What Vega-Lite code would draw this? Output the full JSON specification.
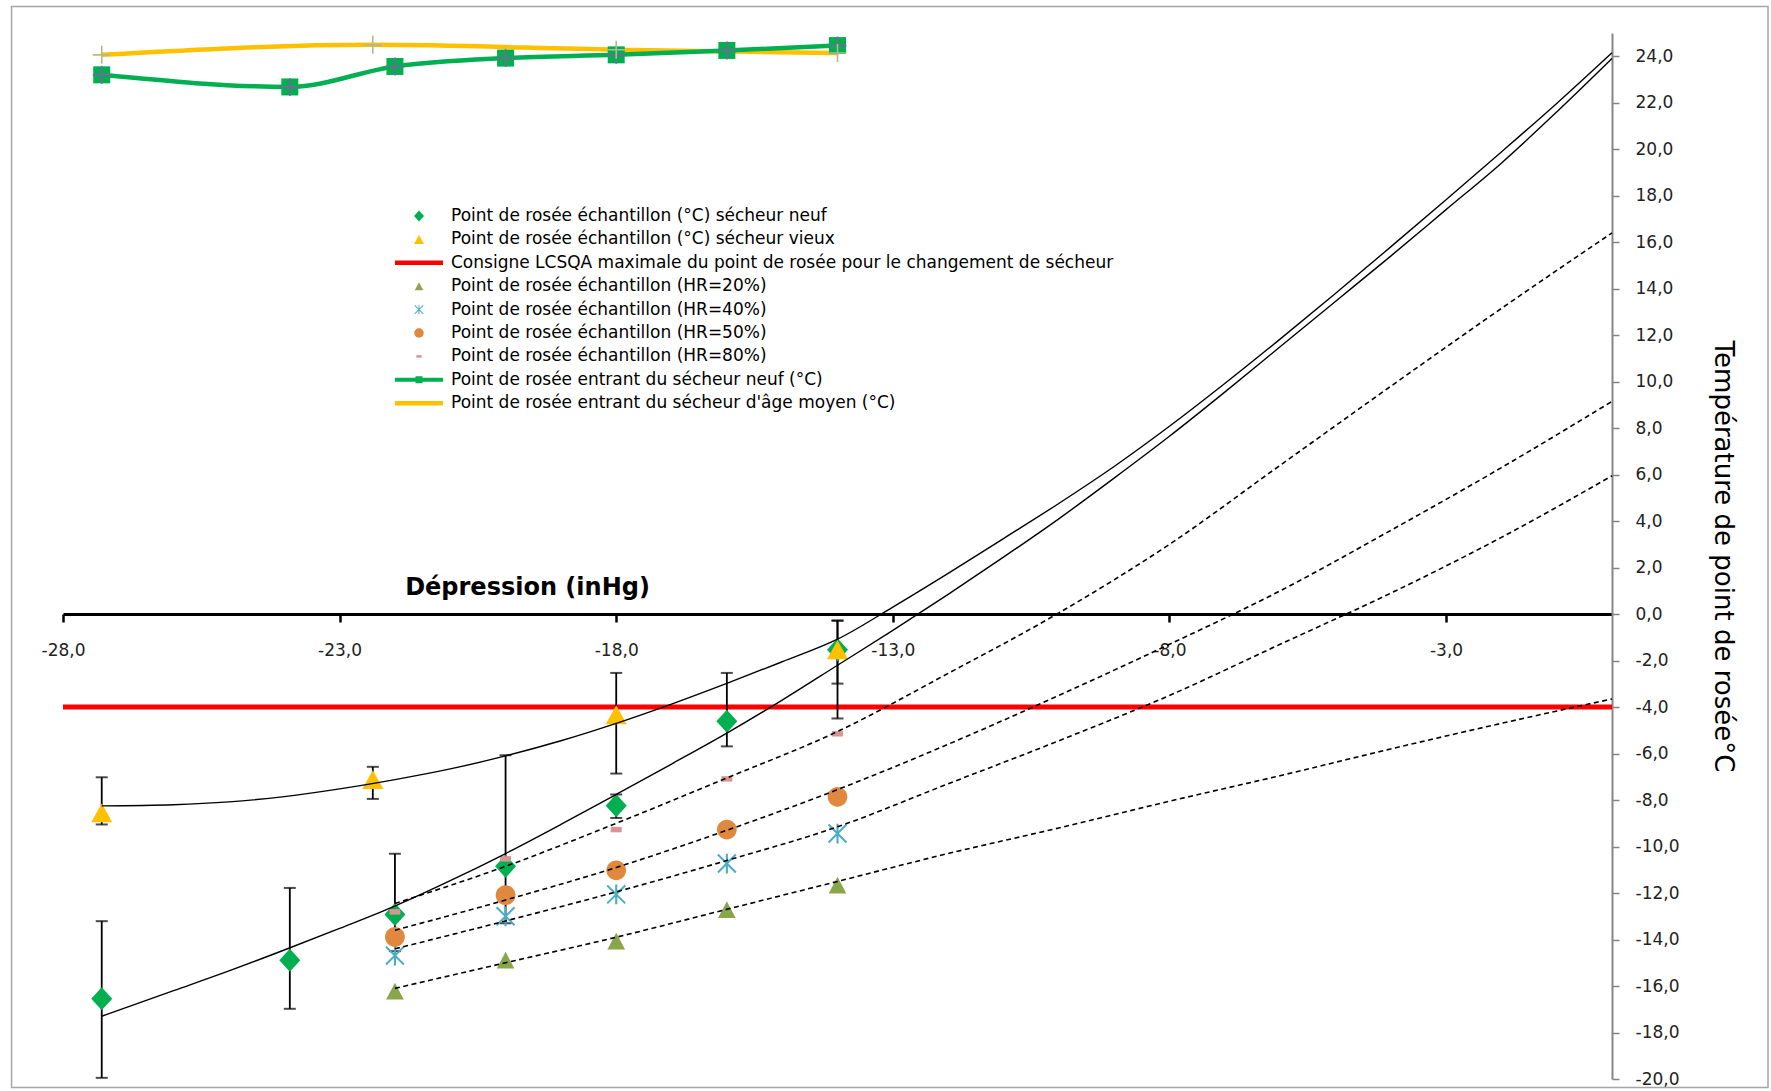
{
  "$schema": "https://vega.github.io/schema/vega-lite/v6.json",
  "width": 1549,
  "height": 1046,
  "autosize": {"type": "none"},
  "padding": {"left": 63, "top": 33, "right": 159, "bottom": 12},
  "background": "white",
  "config": {"view": {"stroke": null}, "axis": {"grid": false}},
  "datasets": {
    "pts": [
      {"series": "Point de rosée échantillon (°C) sécheur neuf", "x": -27.3, "y": -16.55},
      {"series": "Point de rosée échantillon (°C) sécheur neuf", "x": -23.9, "y": -14.89},
      {"series": "Point de rosée échantillon (°C) sécheur neuf", "x": -22, "y": -12.92},
      {"series": "Point de rosée échantillon (°C) sécheur neuf", "x": -20, "y": -10.85},
      {"series": "Point de rosée échantillon (°C) sécheur neuf", "x": -18, "y": -8.24},
      {"series": "Point de rosée échantillon (°C) sécheur neuf", "x": -16, "y": -4.61},
      {"series": "Point de rosée échantillon (°C) sécheur neuf", "x": -14, "y": -1.53},
      {"series": "Point de rosée échantillon (°C) sécheur vieux", "x": -27.3, "y": -8.55},
      {"series": "Point de rosée échantillon (°C) sécheur vieux", "x": -22.4, "y": -7.12},
      {"series": "Point de rosée échantillon (°C) sécheur vieux", "x": -18, "y": -4.33},
      {"series": "Point de rosée échantillon (°C) sécheur vieux", "x": -14, "y": -1.53},
      {"series": "Point de rosée échantillon (HR=20%)", "x": -22, "y": -16.22},
      {"series": "Point de rosée échantillon (HR=20%)", "x": -20, "y": -14.89},
      {"series": "Point de rosée échantillon (HR=20%)", "x": -18, "y": -14.07},
      {"series": "Point de rosée échantillon (HR=20%)", "x": -16, "y": -12.71},
      {"series": "Point de rosée échantillon (HR=20%)", "x": -14, "y": -11.66},
      {"series": "Point de rosée échantillon (HR=40%)", "x": -22, "y": -14.69},
      {"series": "Point de rosée échantillon (HR=40%)", "x": -20, "y": -13.0},
      {"series": "Point de rosée échantillon (HR=40%)", "x": -18, "y": -12.06},
      {"series": "Point de rosée échantillon (HR=40%)", "x": -16, "y": -10.73},
      {"series": "Point de rosée échantillon (HR=40%)", "x": -14, "y": -9.44},
      {"series": "Point de rosée échantillon (HR=50%)", "x": -22, "y": -13.89},
      {"series": "Point de rosée échantillon (HR=50%)", "x": -20, "y": -12.09},
      {"series": "Point de rosée échantillon (HR=50%)", "x": -18, "y": -11.02},
      {"series": "Point de rosée échantillon (HR=50%)", "x": -16, "y": -9.27},
      {"series": "Point de rosée échantillon (HR=50%)", "x": -14, "y": -7.86},
      {"series": "Point de rosée échantillon (HR=80%)", "x": -22, "y": -12.81},
      {"series": "Point de rosée échantillon (HR=80%)", "x": -20, "y": -10.53},
      {"series": "Point de rosée échantillon (HR=80%)", "x": -18, "y": -9.27},
      {"series": "Point de rosée échantillon (HR=80%)", "x": -16, "y": -7.09},
      {"series": "Point de rosée échantillon (HR=80%)", "x": -14, "y": -5.15}
    ],
    "err": [
      {"x": -27.3, "lo": -19.95, "hi": -13.21},
      {"x": -23.9, "lo": -16.98, "hi": -11.78},
      {"x": -22, "lo": -14.5, "hi": -10.31},
      {"x": -20, "lo": -13.3, "hi": -6.07},
      {"x": -18, "lo": -8.77, "hi": -7.76},
      {"x": -16, "lo": -5.69, "hi": -2.53},
      {"x": -14, "lo": -4.49, "hi": -0.28},
      {"x": -27.3, "lo": -9.05, "hi": -7.02},
      {"x": -22.4, "lo": -7.95, "hi": -6.57},
      {"x": -18, "lo": -6.86, "hi": -2.53},
      {"x": -14, "lo": -2.99, "hi": -0.28}
    ],
    "solid": [
      {"curve": "A", "x": -27.3, "y": -8.25}, {"curve": "A", "x": -26, "y": -8.2}, {"curve": "A", "x": -25, "y": -8.08},
      {"curve": "A", "x": -24, "y": -7.85}, {"curve": "A", "x": -23, "y": -7.52}, {"curve": "A", "x": -22, "y": -7.12},
      {"curve": "A", "x": -21, "y": -6.66}, {"curve": "A", "x": -20, "y": -6.1}, {"curve": "A", "x": -19, "y": -5.45},
      {"curve": "A", "x": -18, "y": -4.7}, {"curve": "A", "x": -17, "y": -3.87}, {"curve": "A", "x": -16, "y": -2.98},
      {"curve": "A", "x": -15, "y": -2.05}, {"curve": "A", "x": -14, "y": -1.08}, {"curve": "A", "x": -13, "y": 0.3},
      {"curve": "A", "x": -12, "y": 1.75}, {"curve": "A", "x": -11, "y": 3.25}, {"curve": "A", "x": -10, "y": 4.76},
      {"curve": "A", "x": -9, "y": 6.35}, {"curve": "A", "x": -8, "y": 8.08}, {"curve": "A", "x": -7, "y": 9.92},
      {"curve": "A", "x": -6, "y": 11.83}, {"curve": "A", "x": -5, "y": 13.79}, {"curve": "A", "x": -4, "y": 15.8},
      {"curve": "A", "x": -3, "y": 17.83}, {"curve": "A", "x": -2, "y": 19.88}, {"curve": "A", "x": -1, "y": 21.97},
      {"curve": "A", "x": 0, "y": 24.15},
      {"curve": "B", "x": -27.3, "y": -17.3}, {"curve": "B", "x": -26, "y": -16.2}, {"curve": "B", "x": -25, "y": -15.35},
      {"curve": "B", "x": -24, "y": -14.45}, {"curve": "B", "x": -23, "y": -13.52}, {"curve": "B", "x": -22, "y": -12.56},
      {"curve": "B", "x": -21, "y": -11.47}, {"curve": "B", "x": -20, "y": -10.3}, {"curve": "B", "x": -19, "y": -9.05},
      {"curve": "B", "x": -18, "y": -7.76}, {"curve": "B", "x": -17, "y": -6.45}, {"curve": "B", "x": -16, "y": -5.12},
      {"curve": "B", "x": -15, "y": -3.7}, {"curve": "B", "x": -14, "y": -2.2}, {"curve": "B", "x": -13, "y": -0.7},
      {"curve": "B", "x": -12, "y": 0.85}, {"curve": "B", "x": -11, "y": 2.45}, {"curve": "B", "x": -10, "y": 4.1},
      {"curve": "B", "x": -9, "y": 5.85}, {"curve": "B", "x": -8, "y": 7.65}, {"curve": "B", "x": -7, "y": 9.55},
      {"curve": "B", "x": -6, "y": 11.5}, {"curve": "B", "x": -5, "y": 13.45}, {"curve": "B", "x": -4, "y": 15.4},
      {"curve": "B", "x": -3, "y": 17.4}, {"curve": "B", "x": -2, "y": 19.4}, {"curve": "B", "x": -1, "y": 21.6},
      {"curve": "B", "x": 0, "y": 23.9}
    ],
    "dashed": [
      {"curve": "HR80", "x": -22, "y": -12.45}, {"curve": "HR80", "x": -20, "y": -10.85}, {"curve": "HR80", "x": -18, "y": -9.0},
      {"curve": "HR80", "x": -16, "y": -7.05}, {"curve": "HR80", "x": -14, "y": -5.05}, {"curve": "HR80", "x": -12, "y": -2.55},
      {"curve": "HR80", "x": -10, "y": 0.05}, {"curve": "HR80", "x": -8, "y": 3.0}, {"curve": "HR80", "x": -6, "y": 6.4},
      {"curve": "HR80", "x": -4, "y": 9.8}, {"curve": "HR80", "x": -2, "y": 13.15}, {"curve": "HR80", "x": 0, "y": 16.4},
      {"curve": "HR50", "x": -22, "y": -13.6}, {"curve": "HR50", "x": -20, "y": -12.3}, {"curve": "HR50", "x": -18, "y": -10.9},
      {"curve": "HR50", "x": -16, "y": -9.3}, {"curve": "HR50", "x": -14, "y": -7.55}, {"curve": "HR50", "x": -12, "y": -5.6},
      {"curve": "HR50", "x": -10, "y": -3.5}, {"curve": "HR50", "x": -8, "y": -1.3}, {"curve": "HR50", "x": -6, "y": 1.0},
      {"curve": "HR50", "x": -4, "y": 3.6}, {"curve": "HR50", "x": -2, "y": 6.3}, {"curve": "HR50", "x": 0, "y": 9.15},
      {"curve": "HR40", "x": -22, "y": -14.4}, {"curve": "HR40", "x": -20, "y": -13.2}, {"curve": "HR40", "x": -18, "y": -11.95},
      {"curve": "HR40", "x": -16, "y": -10.6}, {"curve": "HR40", "x": -14, "y": -9.15}, {"curve": "HR40", "x": -12, "y": -7.3},
      {"curve": "HR40", "x": -10, "y": -5.45}, {"curve": "HR40", "x": -8, "y": -3.5}, {"curve": "HR40", "x": -6, "y": -1.3},
      {"curve": "HR40", "x": -4, "y": 0.9}, {"curve": "HR40", "x": -2, "y": 3.3}, {"curve": "HR40", "x": 0, "y": 5.95},
      {"curve": "HR20", "x": -22, "y": -16.1}, {"curve": "HR20", "x": -20, "y": -15.0}, {"curve": "HR20", "x": -18, "y": -13.9},
      {"curve": "HR20", "x": -16, "y": -12.7}, {"curve": "HR20", "x": -14, "y": -11.5}, {"curve": "HR20", "x": -12, "y": -10.3},
      {"curve": "HR20", "x": -10, "y": -9.2}, {"curve": "HR20", "x": -8, "y": -8.05}, {"curve": "HR20", "x": -6, "y": -6.95},
      {"curve": "HR20", "x": -4, "y": -5.8}, {"curve": "HR20", "x": -2, "y": -4.7}, {"curve": "HR20", "x": 0, "y": -3.65}
    ],
    "topNeuf": [
      {"x": -27.3, "y": 23.2}, {"x": -23.9, "y": 22.68}, {"x": -22, "y": 23.56}, {"x": -20, "y": 23.92},
      {"x": -18, "y": 24.06}, {"x": -16, "y": 24.25}, {"x": -14, "y": 24.46}
    ],
    "topMoyen": [
      {"x": -27.3, "y": 24.06}, {"x": -22.4, "y": 24.49}, {"x": -18, "y": 24.28}, {"x": -14, "y": 24.14}
    ],
    "consigne": [{"y": -4}]
  },
  "layer": [
    {
      "data": {"values": [{}]},
      "mark": {"type": "rect", "fillOpacity": 0, "stroke": "#A6A6A6", "strokeWidth": 1.5},
      "encoding": {
        "x": {"datum": -28.93, "type": "quantitative", "title": "Dépression (inHg)", "scale": {"domain": [-28, 0], "nice": false, "zero": false}},
        "x2": {"datum": 2.82},
        "y": {"datum": 26.14, "type": "quantitative", "title": "Température de point de rosée°C", "scale": {"domain": [-20, 25], "nice": false, "zero": false}},
        "y2": {"datum": -20.37}
      }
    },
    {
      "data": {"name": "consigne"},
      "mark": {"type": "rule", "color": "#FF0000", "strokeWidth": 5},
      "encoding": {"y": {"field": "y", "type": "quantitative", "title": "Température de point de rosée°C"}}
    },
    {
      "data": {"name": "err"},
      "mark": {"type": "errorbar", "color": "black", "thickness": 1.8, "ticks": {"size": 12, "thickness": 2, "color": "black"}},
      "encoding": {
        "x": {"field": "x", "type": "quantitative", "title": "Dépression (inHg)"},
        "y": {"field": "lo", "type": "quantitative", "title": "Température de point de rosée°C"},
        "y2": {"field": "hi"}
      }
    },
    {
      "data": {"name": "pts"},
      "mark": {"type": "point", "filled": true, "opacity": 1, "strokeWidth": 0, "size": 1764},
      "encoding": {
        "x": {
          "field": "x", "type": "quantitative", "title": "Dépression (inHg)",
          "scale": {"domain": [-28, 0], "nice": false, "zero": false},
          "axis": {
            "orient": "bottom", "offset": -465, "values": [-28, -23, -18, -13, -8, -3],
            "labelExpr": "(datum.value < 0 ? '-' : '') + replace(format(abs(datum.value), '.1f'), '.', ',')",
            "domainColor": "black", "domainWidth": 3, "tickColor": "black", "tickWidth": 2.5, "tickSize": 8,
            "labelFont": "DejaVu Sans", "labelFontSize": 17, "labelColor": "#222222", "labelPadding": 20,
            "labelFlush": false, "labelOverlap": false, "grid": false,
            "titleFont": "DejaVu Sans", "titleFontSize": 24, "titleFontWeight": "bold", "titleColor": "black",
            "titleX": 464, "titleY": -20, "titleAlign": "center", "titleBaseline": "alphabetic"
          }
        },
        "y": {
          "field": "y", "type": "quantitative", "title": "Température de point de rosée°C",
          "scale": {"domain": [-20, 25], "nice": false, "zero": false},
          "axis": {
            "orient": "right",
            "values": [-20, -18, -16, -14, -12, -10, -8, -6, -4, -2, 0, 2, 4, 6, 8, 10, 12, 14, 16, 18, 20, 22, 24],
            "labelExpr": "(datum.value < 0 ? '-' : '') + replace(format(abs(datum.value), '.1f'), '.', ',')",
            "domainColor": "#868686", "domainWidth": 2, "tickColor": "#868686", "tickWidth": 1.5, "tickSize": 7,
            "labelFont": "DejaVu Sans", "labelFontSize": 17, "labelColor": "#222222", "labelPadding": 16,
            "labelAlign": "left", "labelBaseline": "middle", "labelFlush": false, "labelOverlap": false, "grid": false,
            "titleFont": "DejaVu Sans", "titleFontSize": 26, "titleFontWeight": "normal", "titleColor": "black",
            "titleAngle": 90, "titleX": 110, "titleY": 523, "titleAlign": "center", "titleBaseline": "middle"
          }
        },
        "color": {
          "field": "series", "type": "nominal",
          "scale": {
            "domain": [
              "Point de rosée échantillon (°C) sécheur neuf",
              "Point de rosée échantillon (°C) sécheur vieux",
              "Consigne LCSQA maximale du point de rosée pour le changement de sécheur",
              "Point de rosée échantillon (HR=20%)",
              "Point de rosée échantillon (HR=40%)",
              "Point de rosée échantillon (HR=50%)",
              "Point de rosée échantillon (HR=80%)",
              "Point de rosée entrant du sécheur neuf (°C)",
              "Point de rosée entrant du sécheur d'âge moyen (°C)"
            ],
            "range": ["#00B050", "#FFC000", "#FF0000", "#8AA64B", "#4BACC6", "#E0883E", "#D99594", "#00B050", "#FFC000"]
          },
          "legend": {
            "title": null, "orient": "none", "legendX": 330, "legendY": 173, "direction": "vertical", "padding": 0,
            "symbolSize": 400, "symbolStrokeWidth": 0, "symbolOffset": 16, "labelOffset": 22, "rowPadding": 5.4,
            "labelFont": "DejaVu Sans", "labelFontSize": 17, "labelColor": "black", "labelLimit": 1000, "symbolOpacity": 1
          }
        },
        "shape": {
          "field": "series", "type": "nominal",
          "scale": {
            "domain": [
              "Point de rosée échantillon (°C) sécheur neuf",
              "Point de rosée échantillon (°C) sécheur vieux",
              "Consigne LCSQA maximale du point de rosée pour le changement de sécheur",
              "Point de rosée échantillon (HR=20%)",
              "Point de rosée échantillon (HR=40%)",
              "Point de rosée échantillon (HR=50%)",
              "Point de rosée échantillon (HR=80%)",
              "Point de rosée entrant du sécheur neuf (°C)",
              "Point de rosée entrant du sécheur d'âge moyen (°C)"
            ],
            "range": [
              "M0,-0.55L0.5,0L0,0.55L-0.5,0Z",
              "M0,-0.45L0.5,0.45L-0.5,0.45Z",
              "M-2.4,-0.22H2.4V0.22H-2.4Z",
              "M0,-0.4L0.42,0.4L-0.42,0.4Z",
              "M-0.05,-0.47L0.05,-0.47L0.05,0.47L-0.05,0.47Z M-0.394,-0.461L0.461,0.394L0.394,0.461L-0.461,-0.394Z M0.461,-0.394L-0.394,0.461L-0.461,0.394L0.394,-0.461Z",
              "M0,-0.47C0.26,-0.47,0.47,-0.26,0.47,0C0.47,0.26,0.26,0.47,0,0.47C-0.26,0.47,-0.47,0.26,-0.47,0C-0.47,-0.26,-0.26,-0.47,0,-0.47Z",
              "M-0.26,-0.13H0.26V0.13H-0.26Z",
              "M-2.4,-0.2H2.4V0.2H-2.4Z M-0.35,-0.35H0.35V0.35H-0.35Z",
              "M-2.4,-0.22H2.4V0.22H-2.4Z"
            ]
          },
          "legend": {
            "title": null, "orient": "none", "legendX": 330, "legendY": 173, "direction": "vertical", "padding": 0,
            "symbolSize": 400, "symbolStrokeWidth": 0, "symbolOffset": 16, "labelOffset": 22, "rowPadding": 5.4,
            "labelFont": "DejaVu Sans", "labelFontSize": 17, "labelColor": "black", "labelLimit": 1000, "symbolOpacity": 1
          }
        }
      }
    },
    {
      "data": {"name": "solid"},
      "mark": {"type": "line", "color": "black", "strokeWidth": 1.4, "interpolate": "monotone"},
      "encoding": {
        "x": {"field": "x", "type": "quantitative", "title": "Dépression (inHg)"},
        "y": {"field": "y", "type": "quantitative", "title": "Température de point de rosée°C"},
        "detail": {"field": "curve", "type": "nominal"}
      }
    },
    {
      "data": {"name": "dashed"},
      "mark": {"type": "line", "color": "black", "strokeWidth": 1.6, "strokeDash": [5, 3.5], "interpolate": "monotone"},
      "encoding": {
        "x": {"field": "x", "type": "quantitative", "title": "Dépression (inHg)"},
        "y": {"field": "y", "type": "quantitative", "title": "Température de point de rosée°C"},
        "detail": {"field": "curve", "type": "nominal"}
      }
    },
    {
      "data": {"name": "topMoyen"},
      "mark": {"type": "line", "color": "#FFC000", "strokeWidth": 4.5, "interpolate": "monotone"},
      "encoding": {
        "x": {"field": "x", "type": "quantitative", "title": "Dépression (inHg)"},
        "y": {"field": "y", "type": "quantitative", "title": "Température de point de rosée°C"}
      }
    },
    {
      "data": {"name": "topNeuf"},
      "mark": {"type": "line", "color": "#00B050", "strokeWidth": 4.5, "interpolate": "monotone"},
      "encoding": {
        "x": {"field": "x", "type": "quantitative", "title": "Dépression (inHg)"},
        "y": {"field": "y", "type": "quantitative", "title": "Température de point de rosée°C"}
      }
    },
    {
      "data": {"name": "topNeuf"},
      "mark": {"type": "point", "shape": "square", "size": 289, "filled": true, "opacity": 1, "color": "#00B050", "strokeWidth": 0},
      "encoding": {
        "x": {"field": "x", "type": "quantitative", "title": "Dépression (inHg)"},
        "y": {"field": "y", "type": "quantitative", "title": "Température de point de rosée°C"}
      }
    },
    {
      "data": {"name": "topNeuf"},
      "mark": {"type": "point", "shape": "M-1,-0.09H1V0.09H-1Z M-0.09,-1H0.09V1H-0.09Z", "size": 324, "filled": true, "opacity": 1, "color": "#7E62A3", "strokeWidth": 0},
      "encoding": {
        "x": {"field": "x", "type": "quantitative", "title": "Dépression (inHg)"},
        "y": {"field": "y", "type": "quantitative", "title": "Température de point de rosée°C"}
      }
    },
    {
      "data": {"name": "topMoyen"},
      "mark": {"type": "point", "shape": "M-1,-0.09H1V0.09H-1Z M-0.09,-1H0.09V1H-0.09Z", "size": 324, "filled": true, "opacity": 1, "color": "#B5B98A", "strokeWidth": 0},
      "encoding": {
        "x": {"field": "x", "type": "quantitative", "title": "Dépression (inHg)"},
        "y": {"field": "y", "type": "quantitative", "title": "Température de point de rosée°C"}
      }
    }
  ]
}
